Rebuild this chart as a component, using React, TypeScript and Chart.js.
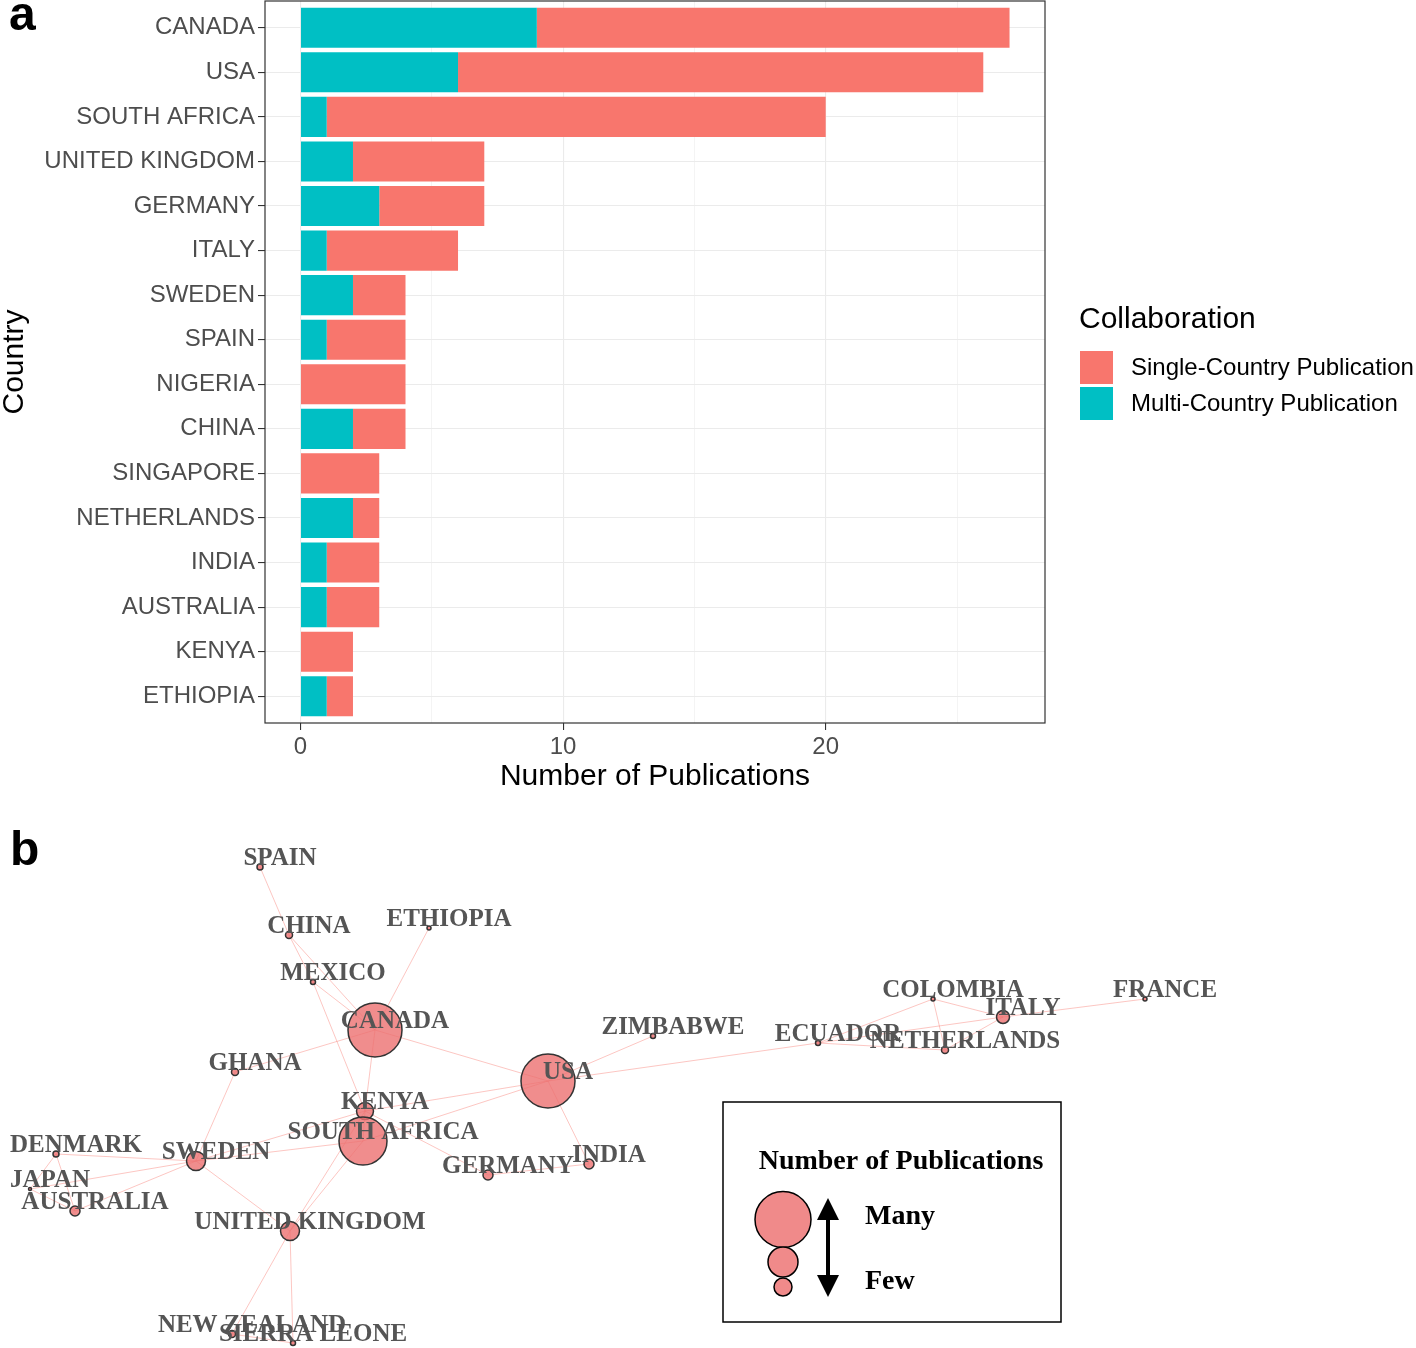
import React, { useEffect, useRef } from "react";
import { Chart, registerables } from "chart.js";

Chart.register(...registerables);

// ---------- Panel a data ----------
const countries = [
  "CANADA", "USA", "SOUTH AFRICA", "UNITED KINGDOM", "GERMANY", "ITALY", "SWEDEN", "SPAIN",
  "NIGERIA", "CHINA", "SINGAPORE", "NETHERLANDS", "INDIA", "AUSTRALIA", "KENYA", "ETHIOPIA",
];
const multiCountry = [9, 6, 1, 2, 3, 1, 2, 1, 0, 2, 0, 2, 1, 1, 0, 1];
const singleCountry = [18, 20, 19, 5, 4, 5, 2, 3, 4, 2, 3, 1, 2, 2, 2, 1];
const xTicks = [0, 5, 10, 15, 20, 25];
const legendTitle = "Collaboration";
const legendLabels = ["Single-Country Publication", "Multi-Country Publication"];

// ---------- Panel b data (network layout coordinates) ----------
const nodeNames = [
  "SPAIN", "CHINA", "ETHIOPIA", "MEXICO", "CANADA", "GHANA", "ZIMBABWE", "USA", "KENYA",
  "SOUTH AFRICA", "DENMARK", "SWEDEN", "GERMANY", "INDIA", "JAPAN", "AUSTRALIA",
  "UNITED KINGDOM", "NEW ZEALAND", "SIERRA LEONE", "ECUADOR", "COLOMBIA", "ITALY",
  "NETHERLANDS", "FRANCE",
];
const nodeX = [
  2.6, 2.89, 4.29, 3.13, 3.75, 2.35, 6.53, 5.48, 3.65, 3.63, 0.56, 1.96, 4.88, 5.89, 0.3, 0.75,
  2.9, 2.32, 2.93, 8.18, 9.33, 10.03, 9.45, 11.45,
];
const nodeY = [
  0.67, 1.35, 1.28, 1.82, 2.3, 2.72, 2.36, 2.81, 3.11, 3.41, 3.54, 3.61, 3.75, 3.64, 3.89, 4.11,
  4.31, 5.34, 5.43, 2.43, 1.99, 2.17, 2.5, 1.99,
];
const nodeSize = [
  3, 3.5, 2, 2.5, 27, 3.5, 2.5, 27, 8.5, 24, 3, 9.5, 5, 5, 1.5, 5, 9.5, 3.5, 2.5, 2.5, 2, 6.5,
  3.5, 2,
];
const edges: [string, string][] = [
  ["SPAIN", "CHINA"], ["CHINA", "MEXICO"], ["CHINA", "CANADA"], ["MEXICO", "CANADA"],
  ["MEXICO", "KENYA"], ["ETHIOPIA", "CANADA"], ["GHANA", "CANADA"], ["GHANA", "SWEDEN"],
  ["CANADA", "USA"], ["CANADA", "KENYA"], ["USA", "ZIMBABWE"], ["USA", "ECUADOR"],
  ["USA", "KENYA"], ["USA", "SOUTH AFRICA"], ["USA", "INDIA"], ["KENYA", "SOUTH AFRICA"],
  ["KENYA", "GERMANY"], ["GERMANY", "INDIA"], ["SWEDEN", "KENYA"], ["SWEDEN", "SOUTH AFRICA"],
  ["SWEDEN", "DENMARK"], ["SWEDEN", "JAPAN"], ["SWEDEN", "AUSTRALIA"], ["SWEDEN", "UNITED KINGDOM"],
  ["DENMARK", "JAPAN"], ["DENMARK", "AUSTRALIA"], ["JAPAN", "AUSTRALIA"],
  ["UNITED KINGDOM", "SOUTH AFRICA"], ["UNITED KINGDOM", "KENYA"], ["UNITED KINGDOM", "NEW ZEALAND"],
  ["UNITED KINGDOM", "SIERRA LEONE"], ["NEW ZEALAND", "SIERRA LEONE"], ["ECUADOR", "COLOMBIA"],
  ["ECUADOR", "ITALY"], ["ECUADOR", "NETHERLANDS"], ["COLOMBIA", "ITALY"], ["COLOMBIA", "NETHERLANDS"],
  ["ITALY", "NETHERLANDS"], ["ITALY", "FRANCE"],
];
const sizeLegendTitle = "Number of Publications";
const sizeLegendLabels = ["Many", "Few"];

// ---------- styles ----------
const RED = "#F8766D";
const TEAL = "#00BFC4";
const SANS = '"Liberation Sans", Arial, sans-serif';
const SERIF = '"Liberation Serif", "Times New Roman", serif';
const NODE_FILL = "rgba(236,112,112,0.8)";
const EDGE = "rgba(248,118,109,0.42)";

const panelA = {
  id: "panelA",
  afterDatasetsDraw(chart: any) {
    const { ctx, chartArea: a } = chart;
    ctx.save();
    ctx.strokeStyle = "#333333";
    ctx.lineWidth = 1.2;
    ctx.strokeRect(a.left, a.top, a.right - a.left, a.bottom - a.top);
    ctx.restore();
  },
  afterDraw(chart: any) {
    const { ctx, chartArea: a } = chart;
    ctx.save();
    ctx.fillStyle = "#000";
    ctx.font = `bold 48px ${SANS}`;
    ctx.textAlign = "left";
    ctx.textBaseline = "alphabetic";
    ctx.fillText("a", 9, 30);
    const lx = a.right + 35;
    ctx.font = `30px ${SANS}`;
    ctx.textBaseline = "middle";
    ctx.fillText(legendTitle, lx - 1, 320);
    const colors = [RED, TEAL];
    legendLabels.forEach((lab, i) => {
      const top = 351 + i * 36;
      ctx.fillStyle = colors[i];
      ctx.fillRect(lx, top, 33, 33);
      ctx.fillStyle = "#000";
      ctx.font = `24px ${SANS}`;
      ctx.fillText(lab, lx + 51, top + 17);
    });
    ctx.restore();
  },
};

const panelB = {
  id: "panelB",
  afterDatasetsDraw(chart: any) {
    const { ctx, scales } = chart;
    ctx.save();
    ctx.font = `bold 25px ${SERIF}`;
    ctx.fillStyle = "#555555";
    ctx.textAlign = "center";
    ctx.textBaseline = "middle";
    nodeNames.forEach((name, i) => {
      const px = scales.x.getPixelForValue(nodeX[i]);
      const py = scales.y.getPixelForValue(nodeY[i]);
      ctx.fillText(name, px + 20, py - 8);
    });
    ctx.restore();
  },
  afterDraw(chart: any) {
    const { ctx } = chart;
    ctx.save();
    ctx.fillStyle = "#000";
    ctx.font = `bold 48px ${SANS}`;
    ctx.textAlign = "left";
    ctx.textBaseline = "alphabetic";
    ctx.fillText("b", 10, 65);

    ctx.strokeStyle = "#000";
    ctx.lineWidth = 1.5;
    ctx.strokeRect(723, 302, 338, 220);
    ctx.font = `bold 28px ${SERIF}`;
    ctx.textAlign = "center";
    ctx.textBaseline = "middle";
    ctx.fillText(sizeLegendTitle, 901, 362);
    const circles = [
      [783, 419.5, 28],
      [783, 462, 15],
      [783, 487, 9],
    ];
    circles.forEach(([cx, cy, r]) => {
      ctx.beginPath();
      ctx.arc(cx, cy, r, 0, Math.PI * 2);
      ctx.fillStyle = "#F08A8A";
      ctx.fill();
      ctx.lineWidth = 1.5;
      ctx.strokeStyle = "#000";
      ctx.stroke();
    });
    ctx.fillStyle = "#000";
    ctx.strokeStyle = "#000";
    ctx.lineWidth = 4;
    ctx.beginPath();
    ctx.moveTo(828, 410);
    ctx.lineTo(828, 485);
    ctx.stroke();
    ctx.beginPath();
    ctx.moveTo(828, 398);
    ctx.lineTo(839, 420);
    ctx.lineTo(817, 420);
    ctx.closePath();
    ctx.fill();
    ctx.beginPath();
    ctx.moveTo(828, 497);
    ctx.lineTo(839, 475);
    ctx.lineTo(817, 475);
    ctx.closePath();
    ctx.fill();
    ctx.textAlign = "left";
    ctx.font = `bold 28px ${SERIF}`;
    ctx.fillText(sizeLegendLabels[0], 865, 417);
    ctx.fillText(sizeLegendLabels[1], 865, 482);
    ctx.restore();
  },
};

function configA(): any {
  return {
    type: "bar",
    data: {
      datasets: [
        {
          label: legendLabels[1],
          data: countries.map((_, i) => ({ x: multiCountry[i], y: i })),
          backgroundColor: TEAL,
          borderWidth: 0,
        },
        {
          label: legendLabels[0],
          data: countries.map((_, i) => ({ x: singleCountry[i], y: i })),
          backgroundColor: RED,
          borderWidth: 0,
        },
      ],
    },
    options: {
      indexAxis: "y",
      responsive: false,
      animation: false,
      layout: { autoPadding: false, padding: { left: 0, top: 1, right: 371, bottom: 0 } },
      datasets: { bar: { categoryPercentage: 1, barPercentage: 0.9 } },
      plugins: { legend: { display: false }, tooltip: { enabled: false } },
      scales: {
        x: {
          type: "linear",
          stacked: true,
          min: -1.35,
          max: 28.35,
          offset: false,
          afterBuildTicks: (s: any) => {
            s.ticks = xTicks.map((v) => ({ value: v }));
          },
          afterFit: (s: any) => {
            s.height = 77;
            s.paddingLeft = 0;
            s.paddingRight = 0;
          },
          border: { display: false },
          grid: {
            offset: false,
            color: (c: any) => (c.tick && c.tick.value % 10 === 0 ? "#EBEBEB" : "#F1F1F1"),
            lineWidth: (c: any) => (c.tick && c.tick.value % 10 === 0 ? 1.1 : 0.8),
            tickColor: (c: any) => (c.tick && c.tick.value % 10 === 0 ? "#333333" : "rgba(0,0,0,0)"),
            tickWidth: 1.1,
            tickLength: 7,
          },
          ticks: {
            autoSkip: false,
            maxRotation: 0,
            padding: 3,
            color: "#4D4D4D",
            font: { family: SANS, size: 24 },
            callback: (v: any) => (v % 10 === 0 ? String(v) : ""),
          },
          title: {
            display: true,
            text: "Number of Publications",
            color: "#000",
            font: { family: SANS, size: 30, lineHeight: 1.2 },
            padding: { top: 0, bottom: 5 },
          },
        },
        y: {
          type: "linear",
          reverse: true,
          stacked: true,
          min: -0.6,
          max: 15.6,
          offset: false,
          afterBuildTicks: (s: any) => {
            s.ticks = countries.map((_, i) => ({ value: i }));
          },
          afterFit: (s: any) => {
            s.width = 265;
            s.paddingTop = 0;
            s.paddingBottom = 0;
          },
          border: { display: false },
          grid: {
            offset: false,
            color: "#EBEBEB",
            lineWidth: 1.1,
            tickColor: "#333333",
            tickWidth: 1.1,
            tickLength: 7,
          },
          ticks: {
            autoSkip: false,
            padding: 3,
            color: "#4D4D4D",
            font: { family: SANS, size: 24 },
            callback: (v: any) => countries[v] ?? "",
          },
          title: {
            display: true,
            text: "Country",
            color: "#000",
            font: { family: SANS, size: 30, lineHeight: 1 },
            padding: { top: 0, bottom: 0 },
          },
        },
      },
    },
    plugins: [panelA],
  };
}

function configB(): any {
  const idx = (n: string) => nodeNames.indexOf(n);
  return {
    type: "scatter",
    data: {
      datasets: [
        {
          type: "bubble",
          data: nodeNames.map((_, i) => ({ x: nodeX[i], y: nodeY[i], r: nodeSize[i] })),
          backgroundColor: NODE_FILL,
          borderColor: "#333333",
          borderWidth: 1.5,
          order: 0,
          clip: false,
        },
        ...edges.map(([a, b]) => ({
          type: "scatter",
          data: [
            { x: nodeX[idx(a)], y: nodeY[idx(a)] },
            { x: nodeX[idx(b)], y: nodeY[idx(b)] },
          ],
          showLine: true,
          borderColor: EDGE,
          borderWidth: 1,
          pointRadius: 0,
          order: 1,
          clip: false,
        })),
      ],
    },
    options: {
      responsive: false,
      animation: false,
      layout: { autoPadding: false, padding: 0 },
      plugins: { legend: { display: false }, tooltip: { enabled: false } },
      scales: {
        x: { type: "linear", min: 0, max: 14.16, display: false },
        y: { type: "linear", min: 0, max: 5.48, reverse: true, display: false },
      },
    },
    plugins: [panelB],
  };
}

export default function App() {
  const refA = useRef<HTMLCanvasElement>(null);
  const refB = useRef<HTMLCanvasElement>(null);
  useEffect(() => {
    const a = new Chart(refA.current as HTMLCanvasElement, configA());
    const b = new Chart(refB.current as HTMLCanvasElement, configB());
    return () => {
      a.destroy();
      b.destroy();
    };
  }, []);
  return (
    <div style={{ position: "absolute", left: 0, top: 0, width: 1416, height: 1348, background: "#fff" }}>
      <canvas
        ref={refA}
        width={1416}
        height={800}
        style={{ position: "absolute", left: 0, top: 0, width: 1416, height: 800 }}
      />
      <canvas
        ref={refB}
        width={1416}
        height={548}
        style={{ position: "absolute", left: 0, top: 800, width: 1416, height: 548 }}
      />
    </div>
  );
}
